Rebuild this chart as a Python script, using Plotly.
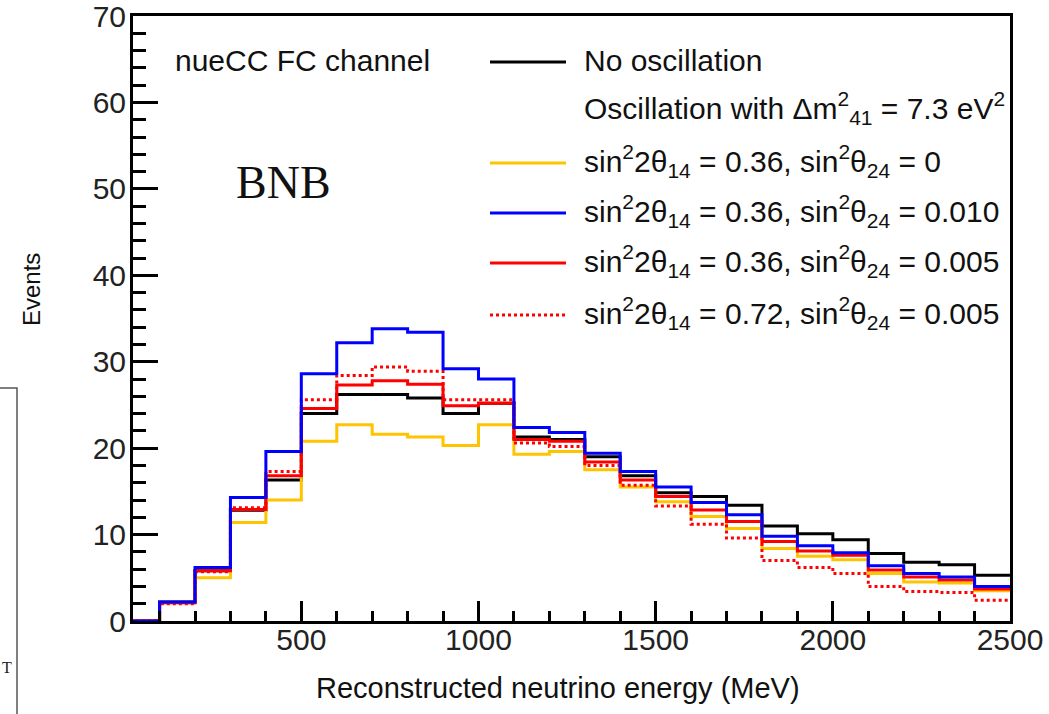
import plotly.graph_objects as go

# bin edges (MeV) and bin contents
bin_edges = list(range(0, 2600, 100))

no_osc = [0, 2.2, 5.8, 12.8, 16.3, 24.0, 26.2, 26.2, 25.8, 24.0, 25.2, 21.3, 21.0,
          19.0, 16.8, 14.85, 14.4, 13.4, 11.0, 10.1, 9.4, 7.8, 6.8, 6.5, 5.3]
osc_036_0 = [0, 2.1, 5.0, 11.4, 14.0, 20.8, 22.7, 21.6, 21.3, 20.3, 22.7, 19.3, 19.6,
             17.5, 15.5, 13.8, 12.1, 10.7, 8.4, 7.5, 7.1, 5.5, 4.5, 4.4, 3.5]
osc_036_0010 = [0, 2.2, 6.2, 14.3, 19.6, 28.6, 32.2, 33.8, 33.4, 29.2, 28.0, 22.4, 21.8,
                19.4, 17.3, 15.5, 13.7, 12.3, 9.8, 8.7, 7.9, 6.4, 5.5, 5.1, 4.0]
osc_036_0005 = [0, 2.1, 5.8, 12.9, 16.8, 24.6, 27.3, 27.8, 27.4, 24.9, 25.2, 21.0, 20.8,
                18.4, 16.3, 14.4, 12.85, 11.5, 9.2, 8.1, 7.6, 5.9, 5.1, 4.75, 3.7]
osc_072_0005 = [0, 2.0, 5.7, 13.1, 17.3, 25.6, 28.4, 29.4, 28.9, 25.6, 25.6, 20.6, 20.2,
                18.0, 15.7, 13.3, 11.2, 9.6, 7.0, 6.2, 5.5, 4.0, 3.4, 3.3, 2.4]

x_ticks = [500, 1000, 1500, 2000, 2500]
y_ticks = [0, 10, 20, 30, 40, 50, 60, 70]

FONT = "Liberation Sans, Arial, sans-serif"
YELLOW = "#ffc400"

series = [
    ("No oscillation", no_osc, "black", "solid"),
    ("sin22θ14 = 0.36, sin2θ24 = 0", osc_036_0, YELLOW, "solid"),
    ("sin22θ14 = 0.36, sin2θ24 = 0.005", osc_036_0005, "#ff0000", "solid"),
    ("sin22θ14 = 0.72, sin2θ24 = 0.005", osc_072_0005, "#ff0000", "dot"),
    ("sin22θ14 = 0.36, sin2θ24 = 0.010", osc_036_0010, "#0000ff", "solid"),
]

fig = go.Figure()
for name, vals, col, dash in series:
    fig.add_trace(go.Scatter(
        x=bin_edges, y=vals + [vals[-1]], mode="lines", name=name,
        line=dict(shape="hv", color=col, width=3, dash=dash),
        showlegend=False, hoverinfo="skip"))

# plot-area geometry in pixels (for decoration placement)
L, R, T, B = 133, 1010, 16, 621
W, H = R - L, B - T
def px(x):
    return (x - L) / W
def py(y):
    return (B - y) / H

annotations = []
shapes = []

annotations.append(dict(text="nueCC FC channel", x=px(173), y=py(60), xref="paper", yref="paper",
                        xanchor="left", yanchor="middle", showarrow=False,
                        font=dict(family=FONT, size=30, color="#111")))
annotations.append(dict(text="BNB", x=px(234), y=py(182), xref="paper", yref="paper",
                        xanchor="left", yanchor="middle", showarrow=False,
                        font=dict(family="Liberation Serif, Times New Roman, serif", size=46, color="#111")))

legend_rows = [
    ("No oscillation", "black", "solid", 60),
    ("Oscillation with Δm<sup>2</sup><sub>41</sub> = 7.3 eV<sup>2</sup>", None, None, 108),
    ("sin<sup>2</sup>2θ<sub>14</sub> = 0.36, sin<sup>2</sup>θ<sub>24</sub> = 0", YELLOW, "solid", 161),
    ("sin<sup>2</sup>2θ<sub>14</sub> = 0.36, sin<sup>2</sup>θ<sub>24</sub> = 0.010", "#0000ff", "solid", 211),
    ("sin<sup>2</sup>2θ<sub>14</sub> = 0.36, sin<sup>2</sup>θ<sub>24</sub> = 0.005", "#ff0000", "solid", 261),
    ("sin<sup>2</sup>2θ<sub>14</sub> = 0.72, sin<sup>2</sup>θ<sub>24</sub> = 0.005", "#ff0000", "dot", 313),
]
for text, col, dash, yy in legend_rows:
    annotations.append(dict(text=text, x=px(582), y=py(yy), xref="paper", yref="paper",
                            xanchor="left", yanchor="middle", showarrow=False,
                            font=dict(family=FONT, size=30, color="#111")))
    if col:
        shapes.append(dict(type="line", xref="paper", yref="paper",
                           x0=px(490), x1=px(566), y0=py(yy + 2), y1=py(yy + 2),
                           line=dict(color=col, width=3, dash=dash)))

annotations.append(dict(text="Reconstructed neutrino energy (MeV)", x=px(558), y=py(688),
                        xref="paper", yref="paper", xanchor="center", yanchor="middle",
                        showarrow=False, font=dict(family=FONT, size=29, color="#111")))
annotations.append(dict(text="Events", x=px(31), y=py(290), xref="paper", yref="paper",
                        xanchor="center", yanchor="middle", textangle=-90,
                        showarrow=False, font=dict(family=FONT, size=24, color="#111")))

# artefact box on the left edge of the cropped picture
shapes.append(dict(type="path", xref="paper", yref="paper",
                   path=f"M {px(0)} {py(388)} L {px(17)} {py(388)} L {px(17)} {py(714)}",
                   line=dict(color="#555", width=1.5)))
annotations.append(dict(text="T", x=px(7), y=py(667), xref="paper", yref="paper",
                        xanchor="center", yanchor="middle", showarrow=False,
                        font=dict(family="Liberation Serif, serif", size=16, color="#222")))

fig.update_layout(
    width=1049, height=714, autosize=False,
    margin=dict(l=L, r=1049 - R, t=T, b=714 - B, pad=0),
    paper_bgcolor="white", plot_bgcolor="white",
    annotations=annotations, shapes=shapes,
    showlegend=False,
)
fig.update_xaxes(
    range=[25, 2500], tickvals=x_ticks, ticktext=[str(v) for v in x_ticks],
    ticks="inside", ticklen=20, tickwidth=2.5, tickcolor="black",
    minor=dict(ticks="inside", dtick=100, tick0=0, ticklen=10, tickwidth=2.5, tickcolor="black", showgrid=False),
    showline=True, linecolor="black", linewidth=3, mirror=True,
    showgrid=False, zeroline=False, automargin=False, ticklabelstandoff=-10,
    ticklabeloverflow="allow",
    tickfont=dict(family=FONT, size=30, color="#222"),
)
fig.update_yaxes(
    range=[0, 70], tickvals=y_ticks, ticktext=[str(v) for v in y_ticks],
    ticks="inside", ticklen=25, tickwidth=2.5, tickcolor="black",
    minor=dict(ticks="inside", dtick=2, tick0=0, ticklen=13, tickwidth=2.5, tickcolor="black", showgrid=False),
    showline=True, linecolor="black", linewidth=3, mirror=True,
    showgrid=False, zeroline=False, automargin=False, ticklabelstandoff=-2,
    ticklabeloverflow="allow",
    tickfont=dict(family=FONT, size=30, color="#222"),
)

fig.write_html("out.html", config={"displayModeBar": False},
               post_script="document.body.style.margin='0';")
